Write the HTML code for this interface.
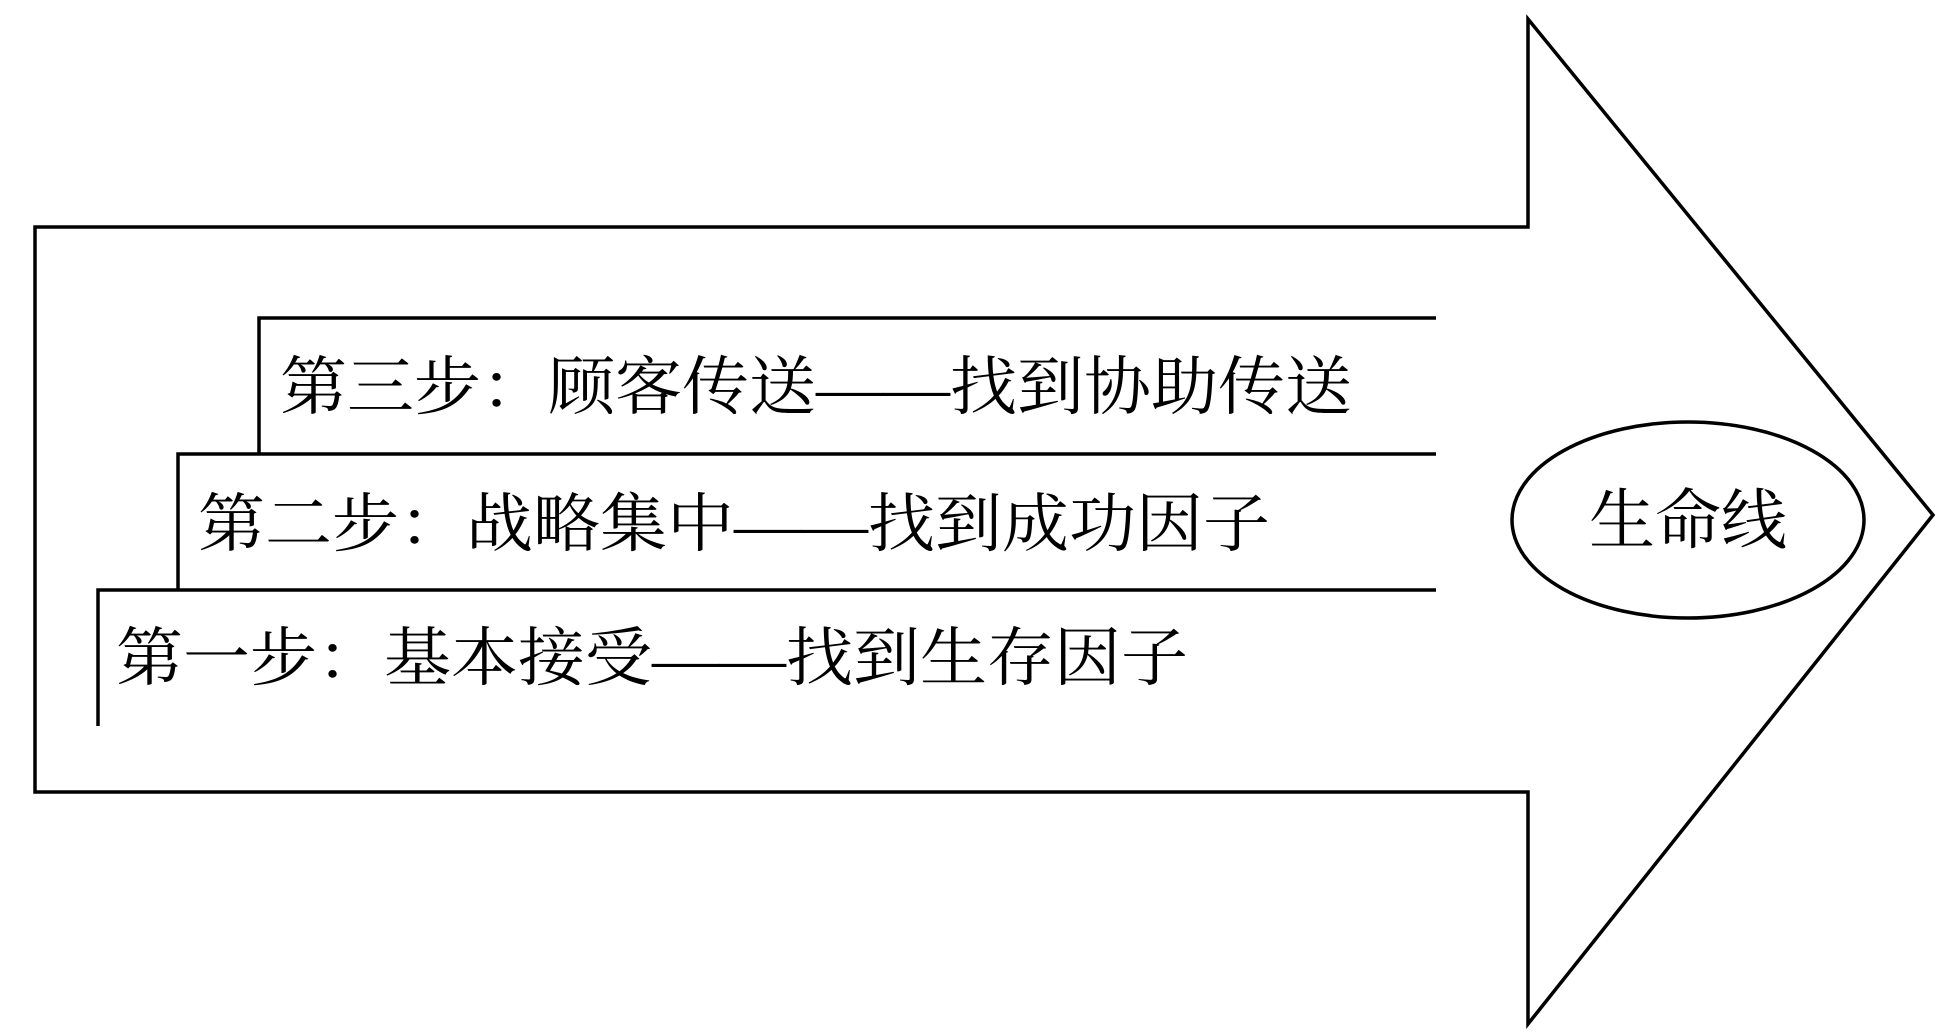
<!DOCTYPE html>
<html><head><meta charset="utf-8"><style>
html,body{margin:0;padding:0;background:#fff;}
svg{display:block}
text{font-family:"Liberation Serif","Noto Serif CJK SC",serif;fill:#000;}
</style></head><body>
<svg width="1959" height="1033" viewBox="0 0 1959 1033" xmlns="http://www.w3.org/2000/svg">
<g fill="none" stroke="#000" stroke-width="3.5">
<polygon points="35,227 1528,227 1528,19 1933,515 1528,1024 1528,792 35,792"/>
<polyline points="259,453 259,318 1436,318"/>
<polyline points="178,589 178,454 1436,454"/>
<polyline points="98,726 98,590 1436,590"/>
<ellipse cx="1688" cy="520" rx="176" ry="98"/>
</g>
<text x="280" y="409" font-size="64" textLength="1072" lengthAdjust="spacingAndGlyphs">第三步：顾客传送——找到协助传送</text>
<text x="198" y="546" font-size="64" textLength="1072" lengthAdjust="spacingAndGlyphs">第二步：战略集中——找到成功因子</text>
<text x="116" y="680" font-size="64" textLength="1072" lengthAdjust="spacingAndGlyphs">第一步：基本接受——找到生存因子</text>
<text x="1688" y="543" font-size="66" text-anchor="middle">生命线</text>
</svg>
</body></html>
